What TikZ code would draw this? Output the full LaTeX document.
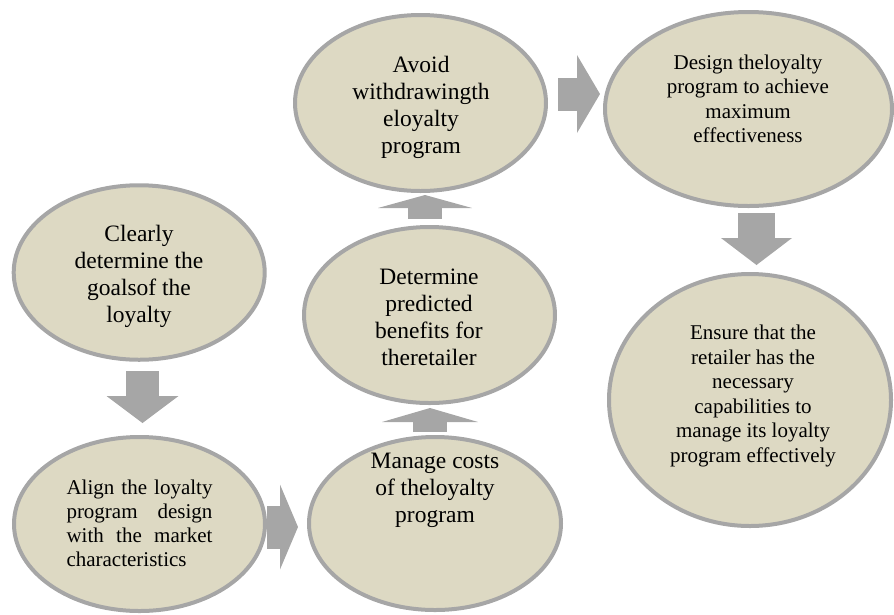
\documentclass[tikz,border=0pt]{standalone}
\usepackage{fontspec}
\setmainfont{Liberation Serif}
\usetikzlibrary{arrows.meta,shapes.geometric}
\definecolor{ovalfill}{HTML}{DDD9C3}
\definecolor{ovalline}{HTML}{A6A6A6}
\definecolor{arrowgray}{HTML}{A6A6A6}
\begin{document}
\begin{tikzpicture}[x=1pt,y=-1pt,
  oval/.style={ellipse, draw=ovalline, line width=4pt, fill=ovalfill, inner sep=0pt, outer sep=0pt},
  bigtext/.style={align=center, font=\fontsize{23.5}{27}\selectfont, inner sep=0pt},
  smalltext/.style={align=center, font=\fontsize{21}{24.5}\selectfont, inner sep=0pt},
  blockarrow/.style n args={3}{draw=arrowgray, line width=#1, -{Triangle[length=#2,width=#3,line width=0pt]}},
]
\useasboundingbox (0,0) rectangle (894,614);
% ellipses
\node[oval, minimum width=251pt, minimum height=174.5pt] (goals) at (139.2,272.5) {};
\node[oval, minimum width=251pt, minimum height=174pt] (align) at (139.5,524) {};
\node[oval, minimum width=252pt, minimum height=173pt] (costs) at (435,523.5) {};
\node[oval, minimum width=251pt, minimum height=176pt] (benefits) at (429.5,315) {};
\node[oval, minimum width=251pt, minimum height=176pt] (avoid) at (420.5,103) {};
\node[oval, minimum width=287pt, minimum height=194pt] (design) at (748.5,109) {};
\node[oval, minimum width=282pt, minimum height=252pt] (ensure) at (750,400) {};
% texts
\node[bigtext] (tgoals) at (139,276) {Clearly\\determine the\\goalsof the\\loyalty};
\node[font=\fontsize{21}{24}\selectfont, text width=146pt, align=justify, inner sep=0pt] (talign) at (139.5,523)
  {\hyphenpenalty=10000 Align the loyalty\linebreak program design\linebreak with the market\linebreak characteristics};
\node[bigtext] (tcosts) at (435,490) {Manage costs\\of theloyalty\\program};
\node[bigtext] (tbenefits) at (429,317) {Determine\\predicted\\benefits for\\theretailer};
\node[bigtext] (tavoid) at (421,107) {Avoid\\withdrawingth\\eloyalty\\program};
\node[smalltext] (tdesign) at (748,99) {Design theloyalty\\program to achieve\\maximum\\effectiveness};
\node[smalltext] (tensure) at (753,396) {Ensure that the\\retailer has the\\necessary\\capabilities to\\manage its loyalty\\program effectively};
% arrow end points
\coordinate (a1s) at (142.5,371); \coordinate (a1e) at (142.5,423);
\coordinate (a2s) at (267,527);   \coordinate (a2e) at (298,527);
\coordinate (a3s) at (430,432);   \coordinate (a3e) at (430,408);
\coordinate (a4s) at (425,219);   \coordinate (a4e) at (425,195);
\coordinate (a5s) at (558,94);    \coordinate (a5e) at (600,94);
\coordinate (a6s) at (756.5,213); \coordinate (a6e) at (756.5,265);
\draw[blockarrow={33pt}{27pt}{72pt}] (a1s) -- (a1e);
\draw[blockarrow={43pt}{18pt}{85pt}] (a2s) -- (a2e);
\draw[blockarrow={34pt}{14pt}{96pt}] (a3s) -- (a3e);
\draw[blockarrow={34pt}{13pt}{94pt}] (a4s) -- (a4e);
\draw[blockarrow={33pt}{23pt}{78pt}] (a5s) -- (a5e);
\draw[blockarrow={37pt}{27pt}{71pt}] (a6s) -- (a6e);
\end{tikzpicture}
\end{document}
